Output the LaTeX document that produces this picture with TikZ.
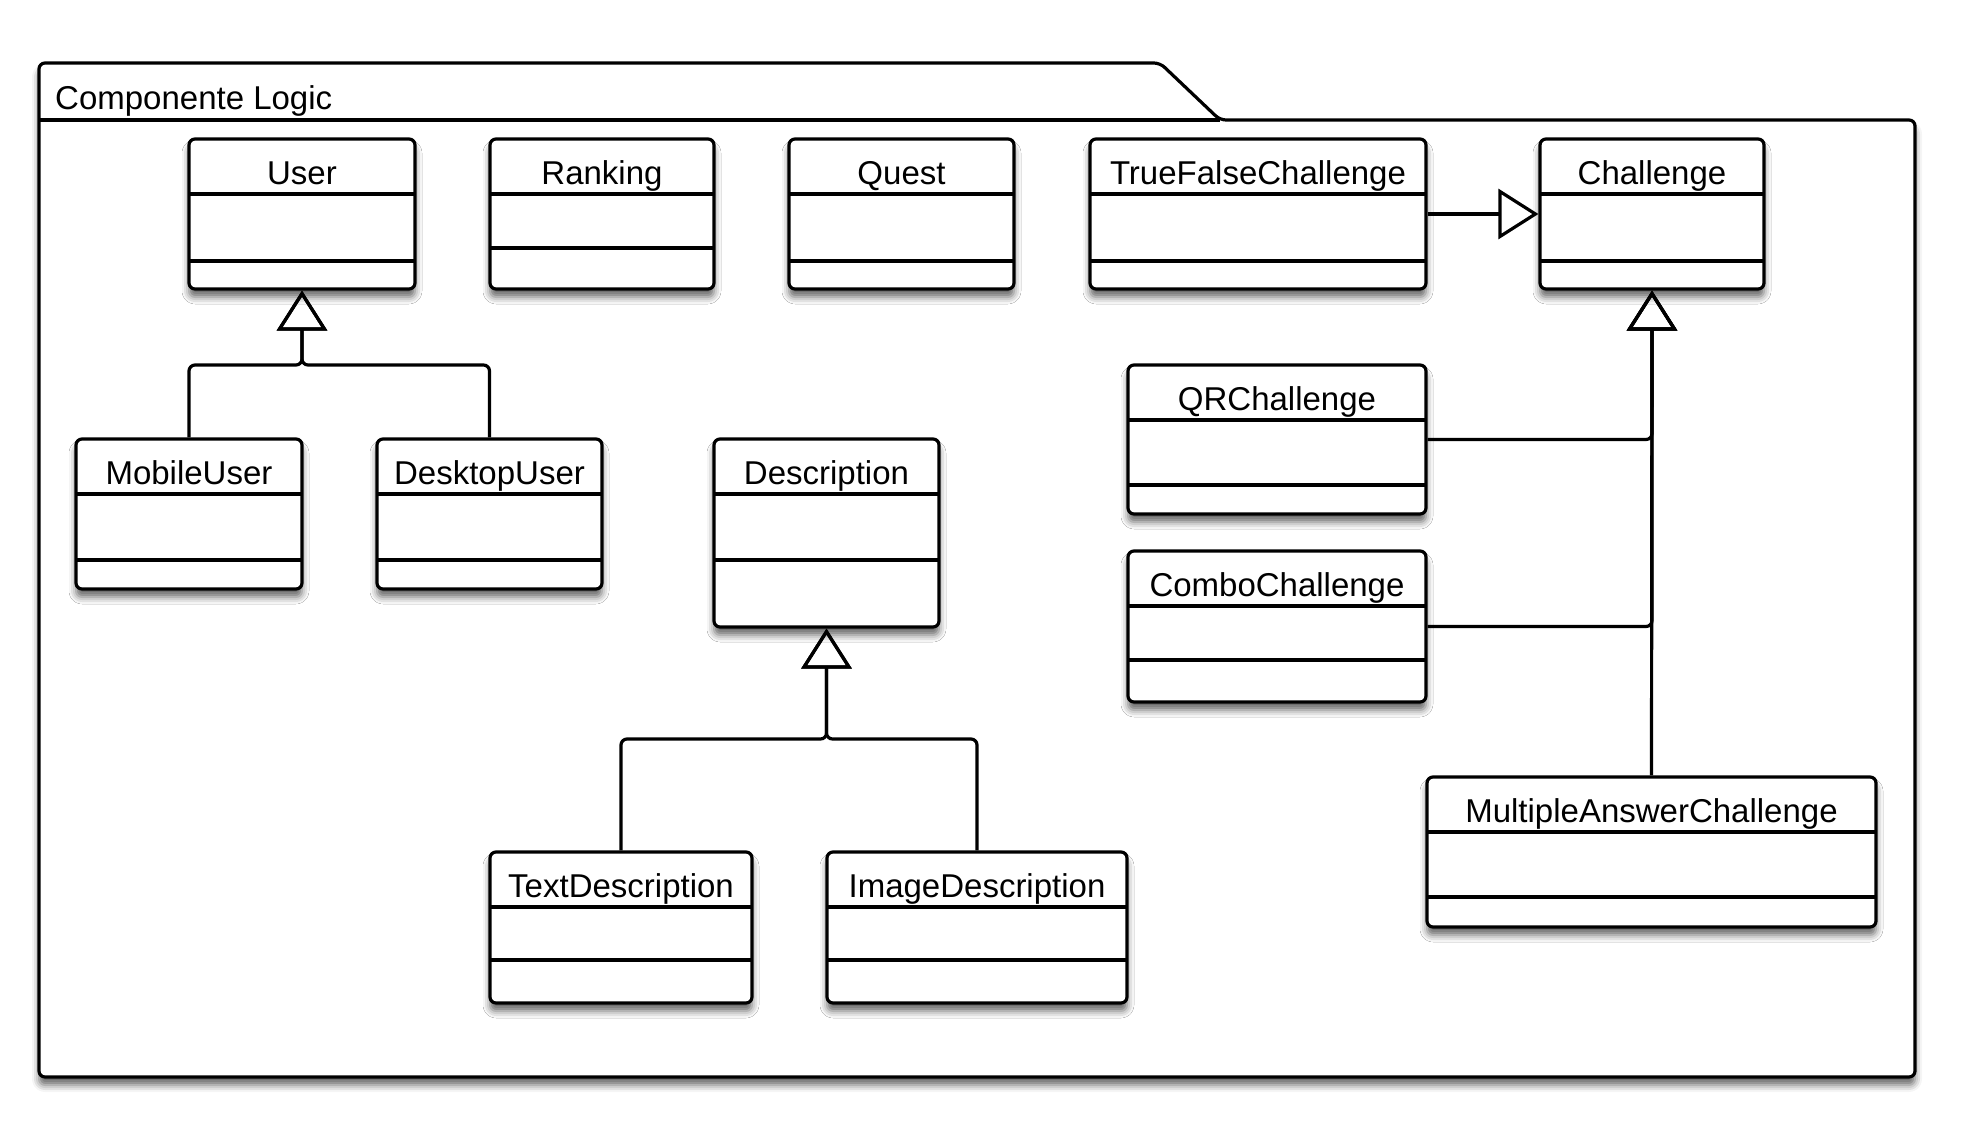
\documentclass[tikz,border=0pt]{standalone}
\usepackage{fontspec}
\setmainfont{Liberation Sans}
\usepackage{tikz}
\usetikzlibrary{arrows.meta}
\usetikzlibrary{shadows.blur}

\tikzset{
  softshadow/.style={blur shadow={shadow xshift=0pt, shadow yshift=-8pt, shadow blur radius=7pt, shadow opacity=60}},
  classbox/.style={draw, line width=3.2pt, rounded corners=6pt, fill=white, softshadow, inner sep=0pt},
  classname/.style={anchor=base, inner sep=0pt, font=\fontsize{33}{40}\selectfont},
  sepline/.style={line width=3.2pt},
  pkgframe/.style={draw, line width=3.2pt, rounded corners=6pt, fill=white, softshadow},
  inherit/.style={line width=3.2pt, rounded corners=6pt, -{Triangle[open, length=40pt, width=50pt]}},
}

% name, left, top, right, bottom, lower separator, text
\newcommand{\umlclass}[7]{%
  \node[classbox, minimum width={(#4-#2)*1pt}, minimum height={(#5-#3)*1pt}] (#1) at ({(#2+#4)/2},{(#3+#5)/2}) {};
  \node[classname] (#1-name) at ({(#2+#4)/2},{#3+45}) {#7};
  \draw[sepline] (#2,{#3+55}) -- (#4,{#3+55});
  \draw[sepline] (#2,#6) -- (#4,#6);
}

\begin{document}
\begin{tikzpicture}[x=1pt, y=-1pt]
\useasboundingbox (0,0) rectangle (1965,1140);
% package
\draw[pkgframe] (39,1077) -- (39,63) -- (1160,63) -- (1220,120) -- (1915,120) -- (1915,1077) -- cycle;
\draw[sepline] (39,120) -- (1220,120);
\node[anchor=base west, inner sep=0pt, font=\fontsize{33}{40}\selectfont] (pkgname) at (55,109) {Componente Logic};
% classes
\umlclass{user}{189}{139}{415}{289}{261}{User}
\umlclass{ranking}{490}{139}{714}{289}{248}{Ranking}
\umlclass{quest}{789}{139}{1014}{289}{261}{Quest}
\umlclass{truefalse}{1090}{139}{1426}{289}{261}{TrueFalseChallenge}
\umlclass{challenge}{1540}{139}{1764}{289}{261}{Challenge}
\umlclass{mobileuser}{76}{439}{302}{589}{560}{MobileUser}
\umlclass{desktopuser}{377}{439}{602}{589}{560}{DesktopUser}
\umlclass{description}{714}{439}{939}{627}{560}{Description}
\umlclass{qrchallenge}{1128}{365}{1426}{514}{485}{QRChallenge}
\umlclass{combochallenge}{1128}{551}{1426}{702}{660}{ComboChallenge}
\umlclass{multianswer}{1427}{777}{1876}{927}{897}{MultipleAnswerChallenge}
\umlclass{textdesc}{490}{852}{752}{1003}{960}{TextDescription}
\umlclass{imagedesc}{827}{852}{1127}{1003}{960}{ImageDescription}
% generalizations
\coordinate (userbus) at (302,365);
\coordinate (descbus) at (826.5,739);
\draw[inherit] (mobileuser.north) |- (userbus) -- (user.south);
\draw[inherit] (desktopuser.north) |- (userbus) -- (user.south);
\draw[inherit] (textdesc.north) |- (descbus) -- (description.south);
\draw[inherit] (imagedesc.north) |- (descbus) -- (description.south);
\draw[inherit] (truefalse.east) -- (challenge.west);
\draw[inherit] (qrchallenge.east) -| (challenge.south);
\draw[inherit] (combochallenge.east) -| (challenge.south);
\draw[inherit] (multianswer.north) -- (challenge.south);
\end{tikzpicture}
\end{document}
